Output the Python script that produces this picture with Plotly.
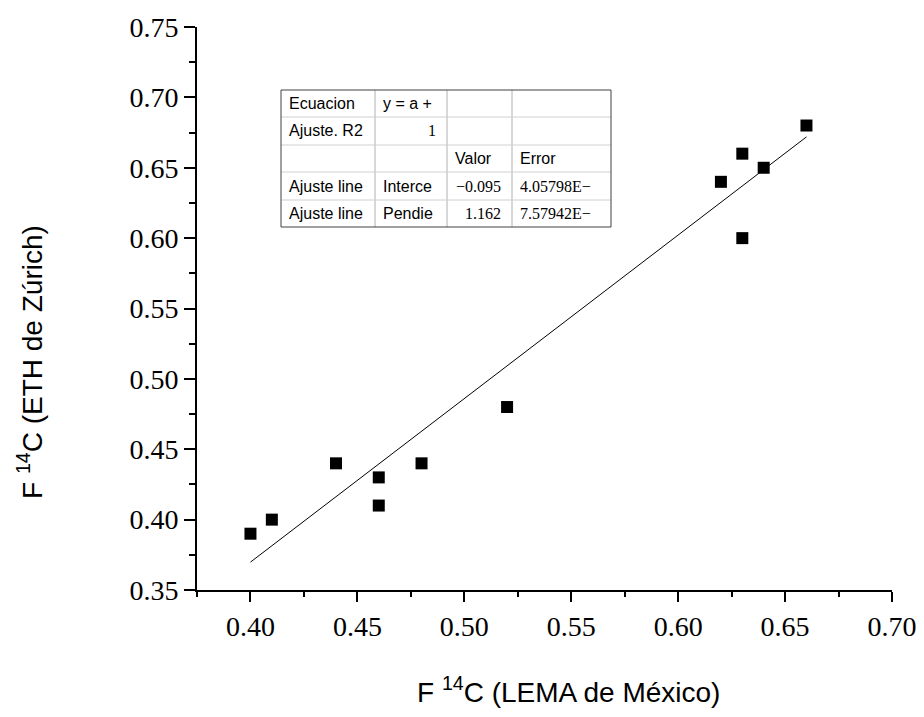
import numpy as np
import plotly.graph_objects as go

# Data
lema_mexico = [0.40, 0.41, 0.44, 0.46, 0.46, 0.48, 0.52, 0.62, 0.63, 0.63, 0.64, 0.66]
eth_zurich = [0.39, 0.40, 0.44, 0.43, 0.41, 0.44, 0.48, 0.64, 0.66, 0.60, 0.65, 0.68]

# Linear fit parameters as printed in the inset table
fit_intercept = -0.095
fit_slope = 1.162

x_ticks = [0.40, 0.45, 0.50, 0.55, 0.60, 0.65, 0.70]
y_ticks = [0.35, 0.40, 0.45, 0.50, 0.55, 0.60, 0.65, 0.70, 0.75]

# Inset table contents (row by row)
table_rows = [
    ["Ecuacion", "y = a +", "", ""],
    ["Ajuste. R2", "1", "", ""],
    ["", "", "Valor", "Error"],
    ["Ajuste line", "Interce", "-0.095", "4.05798E\u2212"],
    ["Ajuste line", "Pendie", "1.162", "7.57942E\u2212"],
]

# page offset (body margin) -> figure starts at (8, 8) in the window
OFF = 8
W, H = 924 - 2 * OFF, 717 - 2 * OFF
# plot area in window pixels
L, R, T, B = 197, 892, 27, 590


def px(x):
    return (x - L) / (R - L)


def py(y):
    return (B - y) / (B - T)


fig = go.Figure()

fig.add_trace(go.Scatter(
    x=lema_mexico, y=eth_zurich, mode="markers",
    marker=dict(symbol="square", size=12, color="black"),
    showlegend=False,
))

x_fit = np.array([min(lema_mexico), max(lema_mexico)])
y_fit = fit_intercept + fit_slope * x_fit
fig.add_trace(go.Scatter(
    x=x_fit, y=y_fit, mode="lines",
    line=dict(color="black", width=1),
    showlegend=False,
))

# --- inset table drawn with shapes + annotations ---
col_edges = [281, 375, 447, 512, 611]
row_edges = [90, 117, 145, 172, 200, 227]
shapes = []
for xe in col_edges[1:-1]:
    shapes.append(dict(type="line", xref="paper", yref="paper",
                       x0=px(xe), x1=px(xe), y0=py(row_edges[0]), y1=py(row_edges[-1]),
                       line=dict(color="#b0b0b0", width=1)))
for ye in row_edges[1:-1]:
    shapes.append(dict(type="line", xref="paper", yref="paper",
                       x0=px(col_edges[0]), x1=px(col_edges[-1]), y0=py(ye), y1=py(ye),
                       line=dict(color="#d0d0d0", width=1)))
shapes.append(dict(type="rect", xref="paper", yref="paper",
                   x0=px(col_edges[0]), x1=px(col_edges[-1]),
                   y0=py(row_edges[0]), y1=py(row_edges[-1]),
                   line=dict(color="#404040", width=1)))

sans = "Liberation Sans, Arial, sans-serif"
serif = "Liberation Serif, Times New Roman, serif"
annotations = []
for r, row in enumerate(table_rows):
    yc = (row_edges[r] + row_edges[r + 1]) / 2
    for c, txt in enumerate(row):
        if not txt:
            continue
        numeric = txt[0].isdigit() or txt[0] == "-"
        font = dict(family=serif if numeric else sans, size=16, color="black")
        if numeric and c in (1, 2):
            # numbers right-aligned in their cell
            xa, anchor = col_edges[c + 1] - 9, "right"
        else:
            xa, anchor = col_edges[c] + 6, "left"
        annotations.append(dict(
            x=px(xa), y=py(yc), xref="paper", yref="paper",
            text=txt.replace("-0", "\u22120"), showarrow=False,
            xanchor=anchor, yanchor="middle", font=font,
        ))

# axis titles
annotations.append(dict(
    x=px(568), y=py(690), xref="paper", yref="paper",
    text="F <sup>14</sup>C (LEMA de México)", showarrow=False,
    xanchor="center", yanchor="middle",
    font=dict(family=sans, size=28, color="black"),
))
annotations.append(dict(
    x=px(30), y=py(362), xref="paper", yref="paper",
    text="F <sup>14</sup>C (ETH de Zúrich)", showarrow=False, textangle=-90,
    xanchor="center", yanchor="middle",
    font=dict(family=sans, size=28, color="black"),
))

axis_common = dict(
    showline=True, linecolor="black", linewidth=2, showgrid=False, zeroline=False,
    tickcolor="black", tickwidth=2, automargin=False,
)

fig.update_layout(
    width=W, height=H, autosize=False,
    margin=dict(l=L - OFF, r=W - (R - OFF), t=T - OFF, b=H - (B - OFF)),
    paper_bgcolor="white", plot_bgcolor="white",
    shapes=shapes, annotations=annotations,
    xaxis=dict(
        range=[0.375, 0.70], tickvals=x_ticks, ticktext=[f"{v:.2f}" for v in x_ticks],
        ticks="outside", ticklen=10, ticklabeloverflow="allow",
        minor=dict(ticks="outside", dtick=0.025, tick0=0.375, ticklen=5, tickwidth=2, tickcolor="black"),
        tickfont=dict(family=serif, size=28, color="black"),
        **axis_common,
    ),
    yaxis=dict(
        range=[0.35, 0.75], tickvals=y_ticks, ticktext=[f"{v:.2f}" for v in y_ticks],
        ticks="outside", ticklen=11, ticklabeloverflow="allow",
        minor=dict(ticks="outside", dtick=0.025, tick0=0.35, ticklen=6, tickwidth=2, tickcolor="black"),
        tickfont=dict(family=serif, size=28, color="black"),
        **axis_common,
    ),
    # top / right frame with their own inward tick spacing
    xaxis2=dict(
        overlaying="x", side="top", anchor="y", range=[0, 5], dtick=1, tick0=0,
        ticks="inside", ticklen=10, showticklabels=False,
        minor=dict(ticks="inside", dtick=0.5, ticklen=5, tickwidth=2, tickcolor="black"),
        **axis_common,
    ),
    yaxis2=dict(
        overlaying="y", side="right", anchor="x", range=[0, 5], dtick=1, tick0=0,
        ticks="inside", ticklen=10, showticklabels=False,
        minor=dict(ticks="inside", dtick=0.5, ticklen=5, tickwidth=2, tickcolor="black"),
        **axis_common,
    ),
)

fig.write_html("out.html")
